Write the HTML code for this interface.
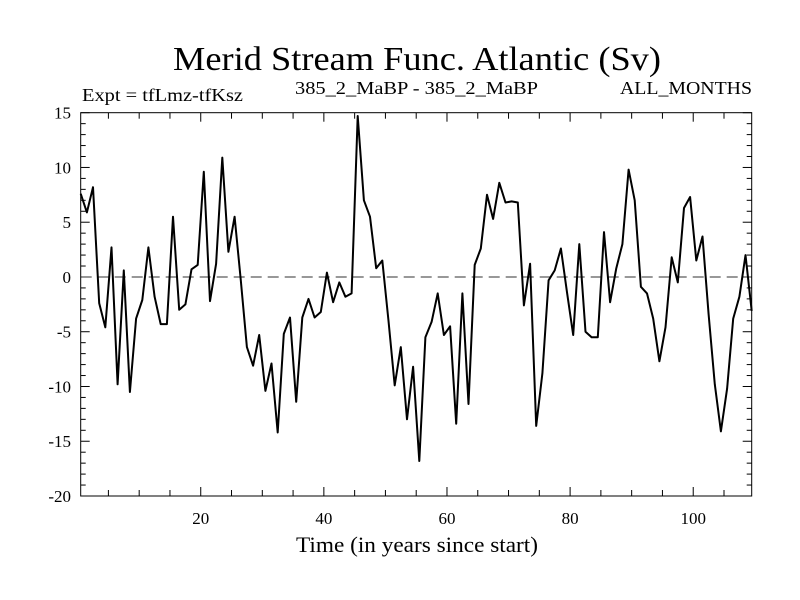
<!DOCTYPE html>
<html><head><meta charset="utf-8"><style>
html,body{margin:0;padding:0;background:#fff;}
svg{display:block;font-family:"Liberation Serif",serif;}
</style></head><body>
<svg id="chart" width="800" height="600" xmlns="http://www.w3.org/2000/svg">
<rect width="800" height="600" fill="#fff"/>
<text x="417" y="70" font-size="34" text-anchor="middle" textLength="488" lengthAdjust="spacingAndGlyphs">Merid Stream Func. Atlantic (Sv)</text>
<text x="82" y="101" font-size="18" textLength="161" lengthAdjust="spacingAndGlyphs">Expt = tfLmz-tfKsz</text>
<text x="295" y="94" font-size="18" textLength="243" lengthAdjust="spacingAndGlyphs">385_2_MaBP - 385_2_MaBP</text>
<text x="620" y="94" font-size="18" textLength="132" lengthAdjust="spacingAndGlyphs">ALL_MONTHS</text>
<text x="417" y="552" font-size="22" text-anchor="middle" textLength="242" lengthAdjust="spacingAndGlyphs">Time (in years since start)</text>
<g id="ticks"></g>
<line id="zero" stroke="#777" stroke-width="1.5" stroke-dasharray="11,6"/>
<path id="series" fill="none" stroke="#000" stroke-width="2" stroke-linejoin="round"/>
<rect id="frame" fill="none" stroke="#000" stroke-width="1"/>
</svg>
<script>
const values = [7.6,5.9,8.2,-2.4,-4.6,2.7,-9.8,0.6,-10.5,-3.8,-2.1,2.7,-1.8,-4.3,-4.3,5.5,-3.0,-2.5,0.7,1.1,
9.6,-2.2,1.2,10.9,2.3,5.5,-0.3,-6.4,-8.1,-5.3,-10.4,-7.9,-14.2,-5.2,-3.7,-11.4,-3.7,-2.0,-3.7,-3.2,
0.4,-2.3,-0.5,-1.8,-1.5,14.7,7.0,5.5,0.8,1.5,-4.0,-9.9,-6.4,-13.0,-8.2,-16.8,-5.5,-4.1,-1.5,-5.3,
-4.5,-13.4,-1.5,-11.6,1.1,2.6,7.5,5.3,8.6,6.8,6.9,6.8,-2.6,1.2,-13.6,-8.8,-0.3,0.6,2.6,-1.4,
-5.3,3.0,-5.0,-5.5,-5.5,4.1,-2.3,0.8,3.0,9.8,7.0,-0.9,-1.5,-3.8,-7.7,-4.6,1.8,-0.5,6.3,7.3,
1.5,3.7,-3.4,-9.8,-14.1,-10.2,-3.8,-1.8,2.0,-3.1];
const xTickLabels = [20,40,60,80,100];
const yTickLabels = [15,10,5,0,-5,-10,-15,-20];
const X0=80.7, X1=751.7, XMIN=0.5, XMAX=109.5;
const Y0=112.7, Y1=496, YMAX=15, YMIN=-20;
const sx = v => X0 + (v-XMIN)/(XMAX-XMIN)*(X1-X0);
const sy = v => Y0 + (YMAX-v)/(YMAX-YMIN)*(Y1-Y0);
const NS="http://www.w3.org/2000/svg";
const svg=document.getElementById('chart');
const fr=document.getElementById('frame');
fr.setAttribute('x',X0);fr.setAttribute('y',Y0);fr.setAttribute('width',X1-X0);fr.setAttribute('height',Y1-Y0);
const z=document.getElementById('zero');
z.setAttribute('x1',X0);z.setAttribute('x2',X1);z.setAttribute('y1',sy(0));z.setAttribute('y2',sy(0));
let d='';
values.forEach((v,i)=>{d+=(i?'L':'M')+sx(i+0.5).toFixed(1)+','+sy(v).toFixed(1);});
document.getElementById('series').setAttribute('d',d);
const tg=document.getElementById('ticks');
function ln(x1,y1,x2,y2){const l=document.createElementNS(NS,'line');
l.setAttribute('x1',x1);l.setAttribute('y1',y1);l.setAttribute('x2',x2);l.setAttribute('y2',y2);
l.setAttribute('stroke','#000');l.setAttribute('stroke-width','1');


tg.appendChild(l);}
for(let t=5;t<=105;t+=5){const x=sx(t);const L=(t%20===0)?9:6;ln(x,Y0,x,Y0+L);ln(x,Y1,x,Y1-L);}
for(let t=YMIN;t<=YMAX;t+=1){const y=sy(t);const L=(t%5===0)?9:5;ln(X0,y,X0+L,y);ln(X1,y,X1-L,y);}
xTickLabels.forEach(t=>{const e=document.createElementNS(NS,'text');
e.setAttribute('x',sx(t));e.setAttribute('y',524);e.setAttribute('font-size','17');e.setAttribute('text-anchor','middle');
e.textContent=t;


svg.appendChild(e);});
yTickLabels.forEach(t=>{const e=document.createElementNS(NS,'text');
e.setAttribute('x',71);e.setAttribute('y',sy(t)+6);e.setAttribute('font-size','17');e.setAttribute('text-anchor','end');
e.textContent=t;


svg.appendChild(e);});
</script>
</body></html>
